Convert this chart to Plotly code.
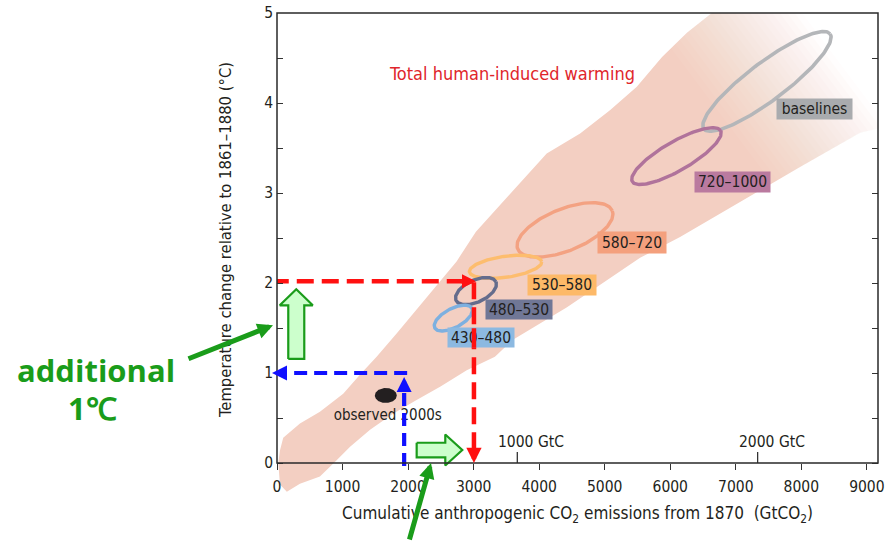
import numpy as np
import plotly.graph_objects as go

# ---------------- data ----------------
# "Total human-induced warming" range: upper/left edge and lower/right edge (GtCO2, degC)
band_upper_x = [150, 45, 20, 45, 95, 350, 655, 1010, 1265, 1520, 1825, 2080, 2335, 2740, 3035,
                3495, 4115, 4625, 5080, 5490, 5875, 6255, 6635, 6975, 9500, 9430]
band_upper_y = [-0.32, -0.24, 0.0, 0.14, 0.28, 0.44, 0.57, 0.77, 0.98, 1.18, 1.44, 1.66, 1.89, 2.24, 2.57,
                2.94, 3.44, 3.66, 3.92, 4.18, 4.51, 4.78, 5.0, 5.28, 5.28, 3.76]
band_lower_x = [150, 350, 655, 910, 1115, 1420, 1775, 2130, 2495, 2895, 3325, 3600, 4425, 5540,
                6150, 7110, 7980, 8895, 9430]
band_lower_y = [-0.32, -0.23, -0.15, 0.03, 0.18, 0.37, 0.55, 0.70, 0.85, 1.03, 1.18, 1.37, 1.73, 2.28,
                2.51, 2.92, 3.29, 3.67, 3.76]

# scenario categories (ppm CO2-eq in 2100) and centres of their ellipses
scenario_labels = ["baselines", "720–1000", "580–720", "530–580", "480–530", "430–480"]
scenario_cx = [7476, 6095, 4394, 3487, 3036, 2690]
scenario_cy = [4.24, 3.41, 2.59, 2.18, 1.91, 1.61]

observed_label = "observed 2000s"
observed_x = [1660]
observed_y = [0.75]

# dashed read-off guides: (+1 degC, +2 degC)
guide_x = [1940, 3005]
guide_y = [1.0, 2.02]

gtc_ticks = [1000, 2000]          # GtC
GTC_TO_GTCO2 = 44.0 / 12.0

x_tick_vals = list(range(0, 10000, 1000))
y_tick_vals = [0, 1, 2, 3, 4, 5]
y_minor_vals = [0.5, 1.5, 2.5, 3.5, 4.5]

# ---------------- layout / style constants ----------------
W, H = 895, 541
ML, MR, MT, MB = 277, 17, 13, 41
PW, PH = W - ML - MR, H - MT - MB
X_MAX = 9170
Y_MAX = 5.0
PX_PER_Y = 90.0
Y_MIN = Y_MAX - PH / PX_PER_Y
PX_PER_X = PW / X_MAX
X_AXIS_POS = (0 - Y_MIN) / (Y_MAX - Y_MIN)

FONT = "Liberation Sans Narrow, Arial Narrow, DejaVu Sans Condensed, Liberation Sans, sans-serif"
DARK = "#231f20"
BAND = "#f3cfc2"
RED = "#ff1010"
BLUE = "#1010ff"
GREEN = "#1a9c1a"

ell_a_px = [79, 51, 51, 36.5, 22, 21]
ell_b_px = [19, 14.5, 21, 10.5, 11, 9.5]
ell_rot = [37, 30, 22, 8, 25, 28]
ell_color = ["#b4b6b9", "#b0739b", "#f3a282", "#fdbd6e", "#646c8c", "#7db0e0"]
lab_bg = ["#a9abae", "#ba7a9f", "#f4a07d", "#fdb968", "#707796", "#8cb9e1"]
lab_dx = [48, 56, 67, 56, 43, 28]          # px right of ellipse centre
lab_dy = [-27.5, -25.7, -13, -17.7, -18.2, -19.7]  # px up
lab_w = [75, 75, 68, 68, 66, 66]
lab_h = [20, 20, 21, 20, 19, 19]


def off(x, y, dx, dy):
    """shift a data point by dx px right, dy px up"""
    return x + dx / PX_PER_X, y + dy / PX_PER_Y


def ellipse(cx, cy, a, b, deg, n=160):
    t = np.linspace(0, 2 * np.pi, n)
    th = np.radians(deg)
    dx = a * np.cos(t) * np.cos(th) - b * np.sin(t) * np.sin(th)
    dy = a * np.cos(t) * np.sin(th) + b * np.sin(t) * np.cos(th)
    return cx + dx / PX_PER_X, cy + dy / PX_PER_Y


def paper(px, py):
    return (px - ML) / PW, (H - MB - py) / PH


fig = go.Figure()

# band
fig.add_trace(go.Scatter(
    x=band_upper_x + band_lower_x[::-1], y=band_upper_y + band_lower_y[::-1],
    fill="toself", fillcolor=BAND, mode="lines", line=dict(width=0),
    hoverinfo="skip", showlegend=False))

# fade of the band towards its upper-right end: nested white veils (no seams)
fade_origin = (5844, 4.03)
u = np.array([0.8, 0.6])
v = np.array([-0.6, 0.8])
prev = 0.0
for s0 in range(40, 175, 6):
    target = min(1.0, (s0 + 6 - 40) / 130.0)
    a = 1.0 if target >= 1.0 else 1 - (1 - target) / (1 - prev)
    prev = target
    pts = [s0 * u - 260 * v, 600 * u - 260 * v, 600 * u + 260 * v, s0 * u + 260 * v]
    xs, ys = zip(*[off(fade_origin[0], fade_origin[1], p[0], p[1]) for p in pts])
    fig.add_trace(go.Scatter(x=list(xs), y=list(ys), fill="toself",
                             fillcolor=f"rgba(255,255,255,{a:.4f})", mode="lines",
                             line=dict(width=0), hoverinfo="skip", showlegend=False))
    if target >= 1.0:
        break

# scenario ellipses
for i in range(len(scenario_labels)):
    ex, ey = ellipse(scenario_cx[i], scenario_cy[i], ell_a_px[i], ell_b_px[i], ell_rot[i])
    fig.add_trace(go.Scatter(x=ex, y=ey, mode="lines",
                             line=dict(color=ell_color[i], width=3.6 if i == 0 else 3.4),
                             name=scenario_labels[i], hoverinfo="name", showlegend=False))

# observed 2000s
ox, oy = ellipse(observed_x[0], observed_y[0], 11, 7.5, 0)
fig.add_trace(go.Scatter(x=ox, y=oy, fill="toself", fillcolor=DARK, mode="lines",
                         line=dict(width=0, color=DARK), name=observed_label, showlegend=False))
tx, ty = off(observed_x[0], observed_y[0], 2, -21)
fig.add_trace(go.Scatter(x=[tx], y=[ty], mode="text", text=[observed_label],
                         textposition="middle center",
                         textfont=dict(family=FONT, size=15, color=DARK),
                         hoverinfo="skip", showlegend=False))

# GtC secondary ticks
for g in gtc_ticks:
    gx = g * GTC_TO_GTCO2
    fig.add_trace(go.Scatter(x=[gx, gx], y=[0, 11 / PX_PER_Y], mode="lines",
                             line=dict(color="#333333", width=1.3),
                             hoverinfo="skip", showlegend=False))


# hollow green block arrows
def block_arrow(x0, y0, x1, y1, shaft, head, head_len):
    p0 = np.array([x0 * PX_PER_X, y0 * PX_PER_Y])
    p1 = np.array([x1 * PX_PER_X, y1 * PX_PER_Y])
    d = p1 - p0
    d = d / np.linalg.norm(d)
    n = np.array([-d[1], d[0]])
    b = p1 - d * head_len
    pts = [p0 + n * shaft / 2, b + n * shaft / 2, b + n * head / 2, p1,
           b - n * head / 2, b - n * shaft / 2, p0 - n * shaft / 2, p0 + n * shaft / 2]
    return [p[0] / PX_PER_X for p in pts], [p[1] / PX_PER_Y for p in pts]


for (ax0, ay0, ax1, ay1, sh, hd, hl) in [(294, 1.156, 294, 1.93, 16, 33, 16),
                                          (2131, 0.144, 2827, 0.144, 14.6, 31, 17)]:
    bx, by = block_arrow(ax0, ay0, ax1, ay1, sh, hd, hl)
    fig.add_trace(go.Scatter(x=bx, y=by, fill="toself", fillcolor="#ccffcc", mode="lines",
                             line=dict(color=GREEN, width=2.2), hoverinfo="skip", showlegend=False))

# blue dashed guide (+1 degC)
bxg, byg = guide_x[0], guide_y[0]
fig.add_trace(go.Scatter(
    x=[bxg, bxg, None, bxg + 3 / PX_PER_X, 12 / PX_PER_X],
    y=[-3 / PX_PER_Y, byg - 18 / PX_PER_Y, None, byg, byg],
    mode="lines", line=dict(color=BLUE, width=4.2, dash="13px,7px"),
    hoverinfo="skip", showlegend=False))
# red dashed guide (+2 degC)
rxg, ryg = guide_x[1], guide_y[1]
fig.add_trace(go.Scatter(
    x=[-80, rxg - 12 / PX_PER_X, None, rxg, rxg],
    y=[ryg, ryg, None, ryg - 1 / PX_PER_Y, 13 / PX_PER_Y],
    mode="lines", line=dict(color=RED, width=4.5, dash="17px,8px"),
    hoverinfo="skip", showlegend=False))

annotations = []
# scenario labels
for i, lab in enumerate(scenario_labels):
    annotations.append(dict(
        x=scenario_cx[i], y=scenario_cy[i], xref="x", yref="y", text=lab, showarrow=False,
        xshift=lab_dx[i], yshift=lab_dy[i], bgcolor=lab_bg[i], borderpad=0,
        width=lab_w[i], height=lab_h[i], font=dict(family=FONT, size=15.5, color=DARK)))
# red guide over the 430-480 label
annotations.append(dict(x=rxg, y=scenario_cy[5], xref="x", yref="y", xshift=0,
                        yshift=lab_dy[5] - 10, ax=0, ay=-21, showarrow=True, arrowhead=0,
                        arrowwidth=4.5, arrowcolor=RED, text=""))
# arrow heads of guides
annotations += [
    dict(x=bxg, y=byg - 4 / PX_PER_Y, xref="x", yref="y", ax=0, ay=16, showarrow=True,
         arrowhead=2, arrowsize=0.75, arrowwidth=4, arrowcolor=BLUE, text=""),
    dict(x=0, y=byg, xref="x", yref="y", xshift=-5, ax=16, ay=0, showarrow=True,
         arrowhead=2, arrowsize=0.75, arrowwidth=4, arrowcolor=BLUE, text=""),
    dict(x=rxg, y=ryg, xref="x", yref="y", xshift=2, ax=-16, ay=0, showarrow=True,
         arrowhead=2, arrowsize=0.62, arrowwidth=4.5, arrowcolor=RED, text=""),
    dict(x=rxg, y=0, xref="x", yref="y", ax=0, ay=-16, showarrow=True,
         arrowhead=2, arrowsize=0.68, arrowwidth=4.5, arrowcolor=RED, text=""),
]
# texts
annotations.append(dict(x=3590, y=4.333, xref="x", yref="y", showarrow=False,
                        text="Total human-induced warming",
                        font=dict(family=FONT, size=18, color="#e0262b")))
for g in gtc_ticks:
    annotations.append(dict(x=g * GTC_TO_GTCO2, y=0.228, xref="x", yref="y", xshift=14,
                            showarrow=False, text=f"{g} GtC",
                            font=dict(family=FONT, size=15.5, color=DARK)))
# y axis title (centred on the 0-5 range, not on the extended domain)
yt_x, yt_y = paper(226, 240)
annotations.append(dict(x=yt_x, y=yt_y, xref="paper", yref="paper", xanchor="center",
                        yanchor="middle", textangle=-90, showarrow=False,
                        text="Temperature change relative to 1861–1880 (°C)",
                        font=dict(family=FONT, size=16.5, color=DARK)))
# green pointers and comment
ad_x, ad_y = paper(96, 370)
one_x, one_y = paper(92.5, 408)
annotations += [
    dict(x=0, y=1.53, xref="x", yref="y", xshift=-4, ax=-86, ay=34, showarrow=True,
         arrowhead=2, arrowsize=0.62, arrowwidth=5, arrowcolor=GREEN, text=""),
    dict(x=2350, y=0.0, xref="x", yref="y", ax=-22, ay=84, showarrow=True,
         arrowhead=2, arrowsize=0.62, arrowwidth=5, arrowcolor=GREEN, text=""),
    dict(x=ad_x, y=ad_y, xref="paper", yref="paper", xanchor="center", yanchor="middle",
         showarrow=False, text="<b>additional</b>",
         font=dict(family="Open Sans, Lato, sans-serif", size=31, color=GREEN)),
    dict(x=one_x, y=one_y, xref="paper", yref="paper", xanchor="center", yanchor="middle",
         showarrow=False, text="<b>1℃</b>",
         font=dict(family="Open Sans, Lato, sans-serif", size=31, color=GREEN)),
]

fig.update_layout(
    width=W, height=H, margin=dict(l=ML, r=MR, t=MT, b=MB, autoexpand=False),
    paper_bgcolor="white", plot_bgcolor="white", showlegend=False,
    annotations=annotations,
    shapes=[dict(type="rect", xref="paper", yref="paper", x0=0, x1=1, y0=X_AXIS_POS, y1=1,
                 line=dict(color="#2a2a2a", width=1.5), layer="above")],
    xaxis=dict(range=[0, X_MAX], anchor="free", position=X_AXIS_POS, showgrid=False,
               zeroline=False, showline=False, tickmode="array", tickvals=x_tick_vals,
               ticks="outside", ticklen=6, tickwidth=1.3, tickcolor="#333333",
               ticklabelstandoff=3,
               tickfont=dict(family=FONT, size=15.5, color=DARK),
               title=dict(text="Cumulative anthropogenic CO<sub>2</sub> emissions from 1870\u00a0\u00a0(GtCO<sub>2</sub>)",
                          font=dict(family=FONT, size=17, color=DARK), standoff=12)),
    yaxis=dict(range=[Y_MIN, Y_MAX], showgrid=False, zeroline=False, showline=False,
               tickmode="array", tickvals=y_tick_vals, ticks="inside", ticklen=6, tickwidth=1.3,
               tickcolor="#333333", mirror="ticks", ticklabelstandoff=3,
               minor=dict(tickmode="array", tickvals=y_minor_vals, ticks="inside",
                          ticklen=6, tickwidth=1.3, tickcolor="#333333"),
               tickfont=dict(family=FONT, size=15.5, color=DARK)),
)

fig.write_html("out.html")
